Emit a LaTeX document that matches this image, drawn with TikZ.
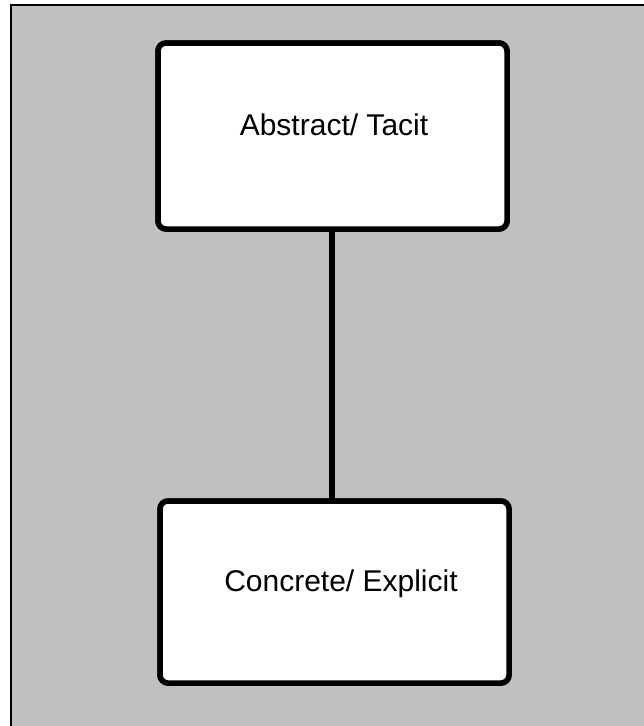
\documentclass[tikz,border=0pt]{standalone}
\usepackage{fontspec}
\setmainfont{Liberation Sans}
\definecolor{panelgray}{RGB}{192,192,192}
\begin{document}
\begin{tikzpicture}[x=1pt,y=-1pt,
  levelbox/.style={draw=black, line width=5.5pt, fill=white, rounded corners=8pt,
    minimum width=349pt, inner sep=0pt, outer sep=0pt},
  leveltext/.style={font=\fontsize{30}{36}\selectfont, anchor=base, inner sep=0pt},
  link/.style={draw=black, line width=6pt}]
  \useasboundingbox (0,0) rectangle (644,726);
  % page and grey panel with its top and left rules
  \fill[white] (0,0) rectangle (644,726);
  \fill[panelgray] (11,5) rectangle (644,726);
  \draw[line width=2pt] (10,5.3) -- (644,5.3);
  \draw[line width=2pt] (11,5) -- (11,726);
  % the two levels, joined by a vertical bar
  \node[levelbox, minimum height=186pt] (abstract) at (332.5,136) {};
  \node[levelbox, minimum height=182pt] (concrete) at (334.5,592) {};
  \draw[link] (abstract.south -| 332,0) -- (concrete.north -| 332,0);
  \node[levelbox, minimum height=186pt] (abstractface) at (abstract.center) {};
  \node[levelbox, minimum height=182pt] (concreteface) at (concrete.center) {};
  \node[leveltext] (abstracttext) at (334,135) {Abstract/ Tacit};
  \node[leveltext] (concretetext) at (341,591) {Concrete/ Explicit};
\end{tikzpicture}
\end{document}
